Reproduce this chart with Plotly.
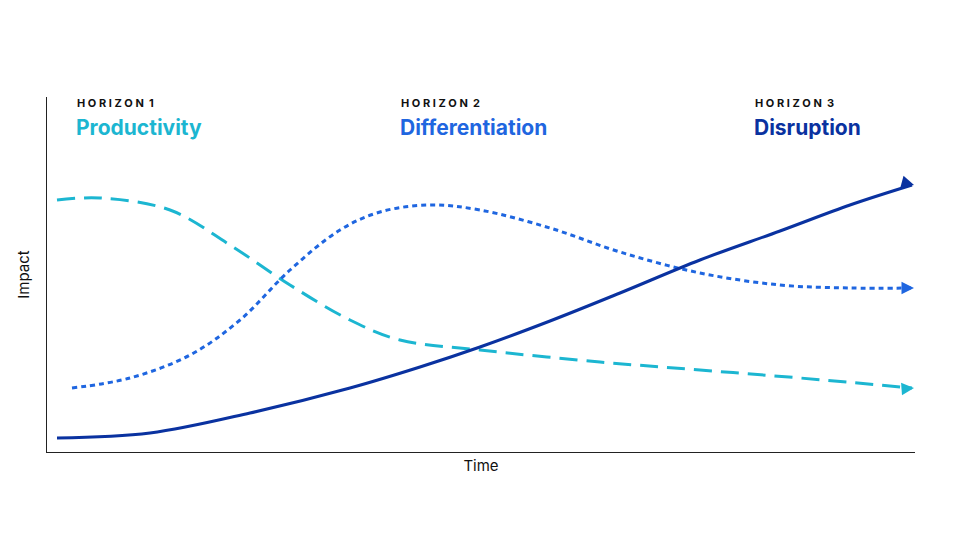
import plotly.graph_objects as go

# Disruption (solid)
dis_x = [10, 103, 203, 303, 373, 433, 503, 573, 653, 733, 803, 865]
dis_y = [14, 19, 39, 64, 85, 105, 131, 159, 192, 221, 247, 267]
# Productivity (dashed)
pro_x = [10, 53, 123, 183, 243, 303, 353, 433, 553, 653, 753, 865]
pro_y = [252, 254, 242, 207, 167, 132, 112, 102, 90, 82, 74, 64]
# Differentiation (dotted)
dif_x = [25, 83, 143, 193, 243, 293, 333, 383, 433, 503, 573, 653, 733, 803, 865]
dif_y = [64, 74, 97, 132, 182, 222, 240, 247, 242, 224, 200, 179, 167, 164, 164]

C_PRO = "#1cb6d1"; C_DIF = "#1f66e0"; C_DIS = "#0a32a0"

fig = go.Figure()
series = [(pro_x, pro_y, C_PRO, "18px,9px"), (dif_x, dif_y, C_DIF, "5px,4px"), (dis_x, dis_y, C_DIS, "solid")]
for xs, ys, c, d in series:
    fig.add_trace(go.Scatter(x=xs, y=ys, mode="lines", line=dict(color=c, width=3, dash=d, shape="spline", smoothing=1.0), hoverinfo="skip"))
    fig.add_annotation(x=xs[-1] + 2, y=ys[-1], ax=xs[-1] - 10, ay=ys[-1] + (ys[-1] - ys[-2]) * 10 / (xs[-1] - xs[-2]),
                       xref="x", yref="y", axref="x", ayref="y", text="", showarrow=True,
                       arrowhead=2, arrowsize=1, arrowwidth=2.5, arrowcolor=c)

heads = [("HORIZON 1", "Productivity", 28, C_PRO), ("HORIZON 2", "Differentiation", 352, C_DIF), ("HORIZON 3", "Disruption", 706, C_DIS)]
for h, t, x, c in heads:
    fig.add_annotation(x=x, y=349, xref="x", yref="y", text="<b>H O R I Z O N  " + h[-1] + "</b>", showarrow=False,
                       xanchor="left", font=dict(family="Inter", size=11, color="#111"))
    fig.add_annotation(x=x - 1, y=325, xref="x", yref="y", text="<b>" + t + "</b>", showarrow=False,
                       xanchor="left", font=dict(family="Inter", size=21, color=c))

fig.update_layout(width=960, height=540, margin=dict(l=39, r=53, t=89, b=96),
                  plot_bgcolor="white", paper_bgcolor="white", showlegend=False,
                  xaxis=dict(range=[0, 868], showgrid=False, zeroline=False, showticklabels=False, ticks="",
                             showline=True, linecolor="#222", linewidth=1,
                             title=dict(text="Time", font=dict(family="Inter", size=15, color="#111"), standoff=8)),
                  yaxis=dict(range=[0, 355], showgrid=False, zeroline=False, showticklabels=False, ticks="",
                             showline=True, linecolor="#222", linewidth=1,
                             title=dict(text="Impact", font=dict(family="Inter", size=15, color="#111"), standoff=12)))
fig.write_html("out.html")
